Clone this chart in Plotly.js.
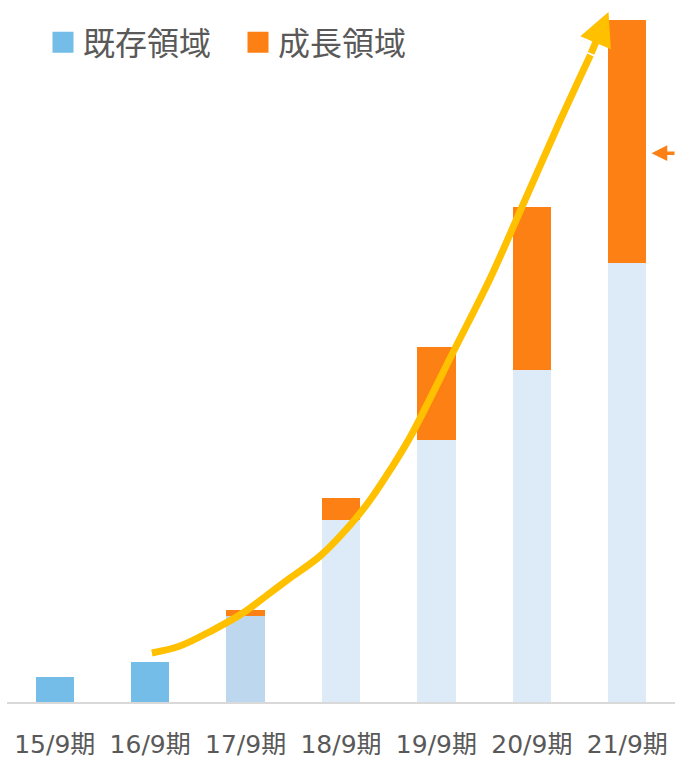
<!DOCTYPE html>
<html>
<head>
<meta charset="utf-8">
<script src="https://cdn.plot.ly/plotly-3.0.1.min.js"></script>
<style>html,body{margin:0;padding:0;background:#fff;}#chart{width:676px;height:759px;}</style>
</head>
<body>
<div id="chart"></div>
<script>
// Categories and tick labels
var periods = [0, 1, 2, 3, 4, 5, 6];
var periodLabels = ['15/9期', '16/9期', '17/9期', '18/9期', '19/9期', '20/9期', '21/9期'];
var seriesNames = ['既存領域', '成長領域'];

// Series values (relative units)
var existingDomain = [3.6, 5.8, 12.4, 26.3, 37.9, 48.0, 63.4];
var growthDomain = [null, null, 0.9, 3.2, 13.4, 23.6, 35.1];

// Trend arrow path (category position, value)
var trendX = [1.018, 1.312, 1.658, 1.973, 2.256, 2.466, 2.781, 3.096, 3.305, 3.515, 3.725, 4.176, 4.565, 4.827, 5.299, 5.614];
var trendY = [7.08, 8.09, 10.40, 12.86, 15.75, 17.92, 21.10, 25.58, 29.19, 33.53, 38.29, 50.58, 61.27, 69.36, 84.10, 93.50];
var trendTip = [5.803, 99.7];

// Side marker arrow position
var sideArrow = [6.254, 79.3];

var existingColors = ['#74BDE9', '#74BDE9', '#BDD7EE', '#DDEBF8', '#DDEBF8', '#DDEBF8', '#DDEBF8'];
var legendColors = ['#74BDE9', '#FD8014'];
var orange = '#FD8014';

var traces = [
  {
    type: 'bar', name: seriesNames[0], x: periods, y: existingDomain, width: 0.4,
    marker: {color: existingColors, line: {width: 0}}, showlegend: false,
    hoverinfo: 'skip'
  },
  {
    type: 'bar', name: seriesNames[1], x: periods, y: growthDomain, width: 0.4,
    marker: {color: orange, line: {width: 0}}, showlegend: false,
    hoverinfo: 'skip'
  },
  {
    type: 'scatter', mode: 'lines', x: trendX, y: trendY, showlegend: false,
    line: {color: '#FFC000', width: 7, shape: 'spline', smoothing: 1},
    cliponaxis: false, hoverinfo: 'skip'
  }
];
// legend entries (square swatches)
seriesNames.forEach(function(nm, i) {
  traces.push({
    type: 'scatter', mode: 'markers', name: nm, x: [null], y: [null],
    marker: {symbol: 'square', size: 16, color: legendColors[i], line: {color: legendColors[i], width: 5}},
    showlegend: true, hoverinfo: 'skip'
  });
});

var layout = {
  width: 676, height: 759,
  margin: {l: 7, r: 1, t: 10, b: 57},
  paper_bgcolor: '#ffffff', plot_bgcolor: '#ffffff',
  barmode: 'stack',
  font: {family: '"Noto Sans CJK JP", sans-serif', color: '#595959'},
  xaxis: {
    type: 'linear', range: [-0.5, 6.5],
    tickvals: periods, ticktext: periodLabels,
    tickfont: {size: 25, color: '#595959', family: '"DejaVu Sans", "Noto Sans CJK JP", sans-serif'},
    showline: true, linecolor: '#D9D9D9', linewidth: 2,
    showgrid: false, zeroline: false, ticks: '', ticklabelstandoff: 19, fixedrange: true
  },
  yaxis: {range: [0, 100], visible: false, showgrid: false, zeroline: false, fixedrange: true},
  showlegend: true,
  legend: {
    orientation: 'h', xref: 'paper', yref: 'paper',
    x: 36 / 668, y: 1 - 5 / 692, xanchor: 'left', yanchor: 'top',
    font: {size: 32, color: '#595959', family: '"Noto Sans CJK JP", sans-serif'},
    traceorder: 'normal', bgcolor: 'rgba(0,0,0,0)', itemsizing: 'trace',
    entrywidth: 150
  },
  annotations: [
    {
      x: trendTip[0], y: trendTip[1], xref: 'x', yref: 'y',
      ax: trendX[trendX.length - 1], ay: trendY[trendY.length - 1], axref: 'x', ayref: 'y',
      text: '', showarrow: true, arrowhead: 2, arrowsize: 0.95, arrowwidth: 7, arrowcolor: '#FFC000'
    },
    {
      x: sideArrow[0], y: sideArrow[1], xref: 'x', yref: 'y',
      ax: 30, ay: 0, axref: 'pixel', ayref: 'pixel',
      text: '', showarrow: true, arrowhead: 2, arrowsize: 0.9, arrowwidth: 3.5, arrowcolor: orange
    }
  ]
};

Plotly.newPlot('chart', traces, layout, {displayModeBar: false, staticPlot: true});
</script>
</body>
</html>
